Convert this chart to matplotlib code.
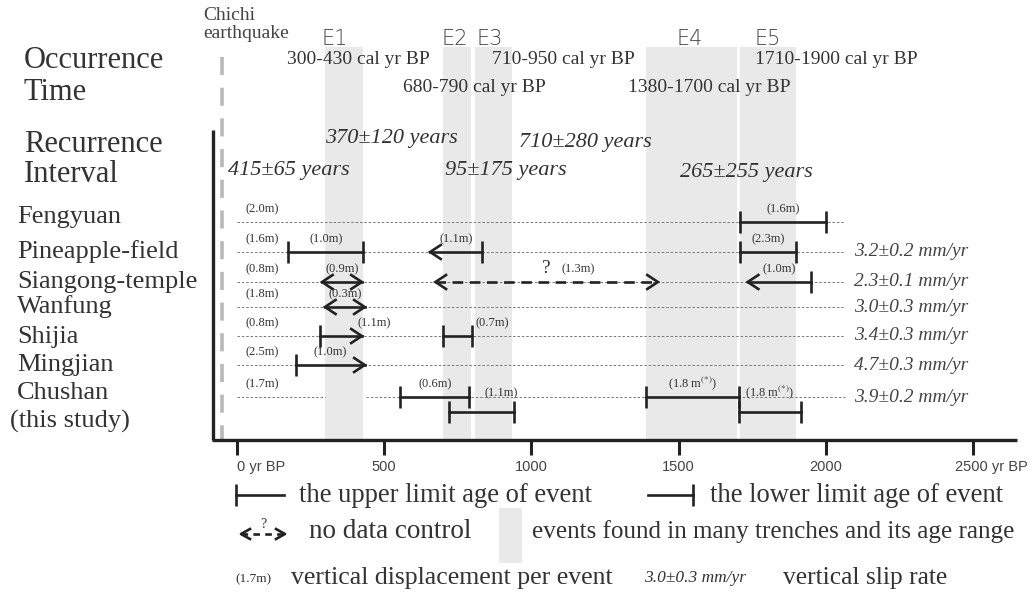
import matplotlib
matplotlib.use("Agg")
import matplotlib.pyplot as plt
from matplotlib.patches import Rectangle

plt.rcParams['mathtext.fontset'] = 'stix'

# ---- data (years BP) ----
event_names = ["E1", "E2", "E3", "E4", "E5"]
band_ranges = [(300, 430), (700, 795), (810, 935), (1390, 1700), (1710, 1900)]
occurrence_text = ["300-430 cal yr BP", "680-790 cal yr BP", "710-950 cal yr BP",
                   "1380-1700 cal yr BP", "1710-1900 cal yr BP"]
recurrence_text = ["415±65 years", "370±120 years", "95±175 years",
                   "710±280 years", "265±255 years"]
chichi_year = -49

sites = ["Fengyuan", "Pineapple-field", "Siangong-temple", "Wanfung",
         "Shijia", "Mingjian", "Chushan"]
first_disp = ["(2.0m)", "(1.6m)", "(0.8m)", "(1.8m)", "(0.8m)", "(2.5m)", "(1.7m)"]
slip_rates = [None, "3.2±0.2 mm/yr", "2.3±0.1 mm/yr", "3.0±0.3 mm/yr",
              "3.4±0.3 mm/yr", "4.7±0.3 mm/yr", "3.9±0.2 mm/yr"]

# segments per site: (start, end, kind, displacement, sub-row)
segments = {
    "Fengyuan": [(1710, 2000, "bar", "(1.6m)", 0)],
    "Pineapple-field": [(175, 430, "bar", "(1.0m)", 0),
                        (657, 832, "larrow", "(1.1m)", 0),
                        (1710, 1900, "bar", "(2.3m)", 0)],
    "Siangong-temple": [(290, 425, "double", "(0.9m)", 0),
                        (675, 1430, "qdashed", "(1.3m)", 0),
                        (1735, 1950, "larrow", "(1.0m)", 0)],
    "Wanfung": [(300, 435, "double", "(0.3m)", 0)],
    "Shijia": [(283, 425, "rarrow", "(1.1m)", 0),
               (700, 800, "bar", "(0.7m)", 0)],
    "Mingjian": [(200, 435, "rarrow", "(1.0m)", 0)],
    "Chushan": [(555, 790, "bar", "(0.6m)", 0),
                (720, 940, "bar", "(1.1m)", 1),
                (1390, 1705, "bar", r"(1.8 m$^{(*)}$)", 0),
                (1705, 1915, "bar", r"(1.8 m$^{(*)}$)", 1)],
}
row_line_spans = {"Chushan": [(0, 300), (440, 2065)]}
default_span = [(0, 2065)]
tick_years = [0, 500, 1000, 1500, 2000, 2500]
tick_text = ["0 yr BP", "500", "1000", "1500", "2000", "2500 yr BP"]

# ---- layout ----
W, H = 1034, 593
X0PX, PPY = 236.6, 0.2946          # pixel of 0 yr, pixels per year
row_y = [222, 252, 282, 307, 336, 365, 397]
sub_row_dy = 15
label_override = {("Shijia", 0): (-4, "left"), ("Shijia", 1): (3, "left"),
                  ("Chushan", 1): (20, None)}

INK = "#222222"
TXT = "#333333"
SERIF = ["Liberation Serif", "DejaVu Serif"]
SANS = ["Liberation Sans", "DejaVu Sans"]


def yr(px):
    return (px - X0PX) / PPY


fig = plt.figure(figsize=(W / 100, H / 100), dpi=100)
ax = fig.add_axes([0, 0, 1, 1])
ax.set_xlim(yr(0), yr(W))
ax.set_ylim(H, 0)
ax.axis("off")

# event bands
for (a, b) in band_ranges:
    ax.add_patch(Rectangle((a, 47), b - a, 440 - 47, color="#e9e9e9", lw=0, zorder=0))

# Chichi earthquake line
ax.plot([chichi_year, chichi_year], [57, 440], color="#b8b8b8", lw=2.6,
        dashes=(5, 3.5), solid_capstyle="butt", zorder=1)

# axes frame
ax.plot([yr(213), yr(213)], [130, 440], color=INK, lw=2.4, solid_capstyle="butt", zorder=5)
ax.plot([yr(212), yr(1017)], [440, 440], color=INK, lw=2.4, solid_capstyle="butt", zorder=5)
for t, s in zip(tick_years, tick_text):
    ax.plot([t, t], [440, 455], color=INK, lw=2.2, solid_capstyle="butt")
    if t == tick_years[0]:
        xt, ha = t, "left"
    elif t == tick_years[-1]:
        xt, ha = t - 18 / PPY, "left"
    else:
        xt, ha = t, "center"
    ax.text(xt, 467, s, ha=ha, va="center", fontsize=10.5, family=SANS, color="#444444")

CAP = 11
HX, HY = 36, 7


def cap(x, y):
    ax.plot([x, x], [y - CAP, y + CAP], color=INK, lw=1.9, solid_capstyle="butt", zorder=4)


def head(x, y, d):
    ax.plot([x - d * HX, x, x - d * HX], [y - HY, y, y + HY], color=INK, lw=1.9,
            solid_joinstyle="miter", zorder=4)


for i, site in enumerate(sites):
    y = row_y[i]
    for a, b in row_line_spans.get(site, default_span):
        ax.plot([a, b], [y, y], color="#777777", lw=0.7, dashes=(2.5, 2), zorder=2)
    ax.text(yr(245), y - 10, first_disp[i], fontsize=9, family=SERIF, color=TXT,
            ha="left", va="baseline")
    if slip_rates[i]:
        ax.text(yr(854), y, slip_rates[i], fontsize=14, family=SERIF, style="italic",
                color="#444444", ha="left", va="center")
    for k, (a, b, kind, lab, sub) in enumerate(segments[site]):
        yy = y + sub * sub_row_dy
        ls = "-" if kind != "qdashed" else (0, (4, 2.5))
        ax.plot([a, b], [yy, yy], color=INK, lw=1.9, linestyle=ls, zorder=4)
        if kind == "bar":
            cap(a, yy); cap(b, yy)
        elif kind == "larrow":
            head(a, yy, -1); cap(b, yy)
        elif kind == "rarrow":
            cap(a, yy); head(b, yy, 1)
        else:
            head(a, yy, -1); head(b, yy, 1)
        dx, ha = label_override.get((site, k), (0, None))
        ly = yy - 10 if sub == 0 else yy - sub_row_dy - 1
        if kind == "qdashed":
            mid = (a + b) / 2
            ax.text(mid, yy - 9, "?", fontsize=14, family=SERIF, color=TXT,
                    ha="center", va="baseline")
            ax.text(mid + 15 / PPY, yy - 10, lab, fontsize=9, family=SERIF,
                    color=TXT, ha="left", va="baseline")
            continue
        if ha == "left":
            ax.text(b + dx / PPY, ly, lab, fontsize=9, family=SERIF, color=TXT,
                    ha="left", va="baseline")
        else:
            ax.text((a + b) / 2 + dx / PPY, ly, lab, fontsize=9, family=SERIF, color=TXT,
                    ha="center", va="baseline")

# left titles and site names
left = yr(24)
ax.text(left, 60, "Occurrence", fontsize=22, family=SERIF, color=TXT, va="center")
ax.text(left, 92, "Time", fontsize=22, family=SERIF, color=TXT, va="center")
ax.text(left, 145, "Recurrence", fontsize=22, family=SERIF, color=TXT, va="center")
ax.text(left, 174, "Interval", fontsize=22, family=SERIF, color=TXT, va="center")
name_y = [217, 252, 282, 307, 337, 365, 393]
for s, ny in zip(sites, name_y):
    ax.text(yr(17), ny, s, fontsize=19, family=SERIF, color=TXT, va="center")
ax.text(yr(10), 421, "(this study)", fontsize=19, family=SERIF, color=TXT, va="center")

ax.text(yr(203), 15, "Chichi", fontsize=14, family=SERIF, color="#444444", va="center")
ax.text(yr(203), 34, "earthquake", fontsize=14, family=SERIF, color="#444444", va="center")

# event names and occurrence / recurrence texts
for name, px in zip(event_names, [335, 455, 490, 690, 768]):
    ax.text(yr(px), 39, name, fontsize=15, family=["DejaVu Sans"], color="#444444",
            ha="center", va="center", fontweight="light")
occ_pos = [(287, 60), (403, 87), (492, 60), (628, 87), (755, 60)]
for s, (px, py) in zip(occurrence_text, occ_pos):
    ax.text(yr(px), py, s, fontsize=14, family=SERIF, color=TXT, va="center")
rec_pos = [(228, 170), (325, 139), (445, 170), (519, 142), (680, 172)]
for s, (px, py) in zip(recurrence_text, rec_pos):
    ax.text(yr(px), py, s, fontsize=16, family=SERIF, style="italic", color=TXT,
            va="center")

# legend
ax.plot([yr(236), yr(236)], [484, 506], color=INK, lw=1.9, solid_capstyle="butt")
ax.plot([yr(236), yr(284)], [495, 495], color=INK, lw=1.9)
ax.text(yr(299), 495, "the upper limit age of event", fontsize=19.2, family=SERIF,
        color=TXT, va="center")
ax.plot([yr(693), yr(693)], [484, 506], color=INK, lw=1.9, solid_capstyle="butt")
ax.plot([yr(648), yr(693)], [495, 495], color=INK, lw=1.9)
ax.text(yr(710), 495, "the lower limit age of event", fontsize=19.2, family=SERIF,
        color=TXT, va="center")
ax.plot([yr(241), yr(285)], [534, 534], color=INK, lw=1.9, linestyle=(0, (2.5, 2)))
ax.plot([yr(250), yr(241), yr(250)], [529, 534, 539], color=INK, lw=1.9)
ax.plot([yr(276), yr(285), yr(276)], [529, 534, 539], color=INK, lw=1.9)
ax.text(yr(263), 528, "?", fontsize=10, family=SERIF, color=TXT, ha="center", va="baseline")
ax.text(yr(309), 532, "no data control", fontsize=19.5, family=SERIF, color=TXT, va="center")
ax.add_patch(Rectangle((yr(499), 508), yr(522) - yr(499), 55, color="#e9e9e9", lw=0))
ax.text(yr(532), 532, "events found in many trenches and its age range", fontsize=18.1,
        family=SERIF, color=TXT, va="center")
ax.text(yr(235), 579, "(1.7m)", fontsize=9.5, family=SERIF, color=TXT, va="center")
ax.text(yr(291), 578, "vertical displacement per event", fontsize=18.5, family=SERIF,
        color=TXT, va="center")
ax.text(yr(644), 578, "3.0±0.3 mm/yr", fontsize=12.5, family=SERIF, style="italic",
        color=TXT, va="center")
ax.text(yr(783), 578, "vertical slip rate", fontsize=18.4, family=SERIF, color=TXT,
        va="center")

fig.savefig("out.png", dpi=100)
